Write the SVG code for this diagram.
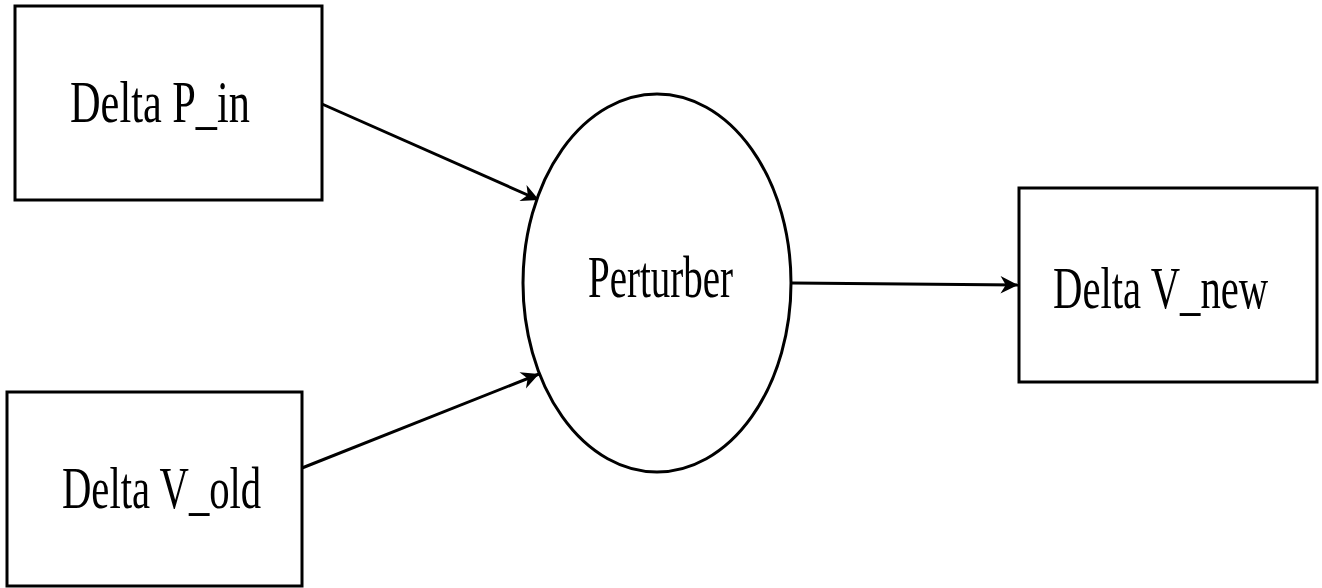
<svg xmlns="http://www.w3.org/2000/svg" width="1322" height="588" viewBox="0 0 1322 588">
<style>
.box{fill:#fff;stroke:#000;stroke-width:3}
.lbl{font-family:"Liberation Serif","DejaVu Serif",serif;font-size:60px;fill:#000}
.con{stroke:#000;stroke-width:3;fill:none;marker-end:url(#arr)}
</style>
<defs>
<marker id="arr" viewBox="0 0 12 12" refX="11" refY="6" markerWidth="7" markerHeight="7" markerUnits="strokeWidth" orient="auto">
<path d="M1,1 L11,6 L1,11 L4,6 Z" fill="#000"/>
</marker>
</defs>
<rect width="1322" height="588" fill="#fff"/>
<g id="connectors">
<line class="con" x1="322" y1="104" x2="539" y2="200"/>
<line class="con" x1="302" y1="468" x2="539" y2="374"/>
<line class="con" x1="792" y1="283" x2="1018" y2="285"/>
</g>
<g id="delta_p_in">
<rect class="box" x="15" y="6" width="307" height="194"/>
<text class="lbl" transform="translate(70,122) scale(0.706,1)">Delta P_in</text>
</g>
<g id="delta_v_old">
<rect class="box" x="7" y="392" width="295" height="194"/>
<text class="lbl" transform="translate(62,508) scale(0.678,1)">Delta V_old</text>
</g>
<g id="perturber">
<ellipse class="box" cx="657" cy="283" rx="134" ry="189"/>
<text class="lbl" transform="translate(588,297) scale(0.65,1)">Perturber</text>
</g>
<g id="delta_v_new">
<rect class="box" x="1019" y="188" width="298" height="194"/>
<text class="lbl" transform="translate(1053,308) scale(0.679,1)">Delta V_new</text>
</g>
</svg>
